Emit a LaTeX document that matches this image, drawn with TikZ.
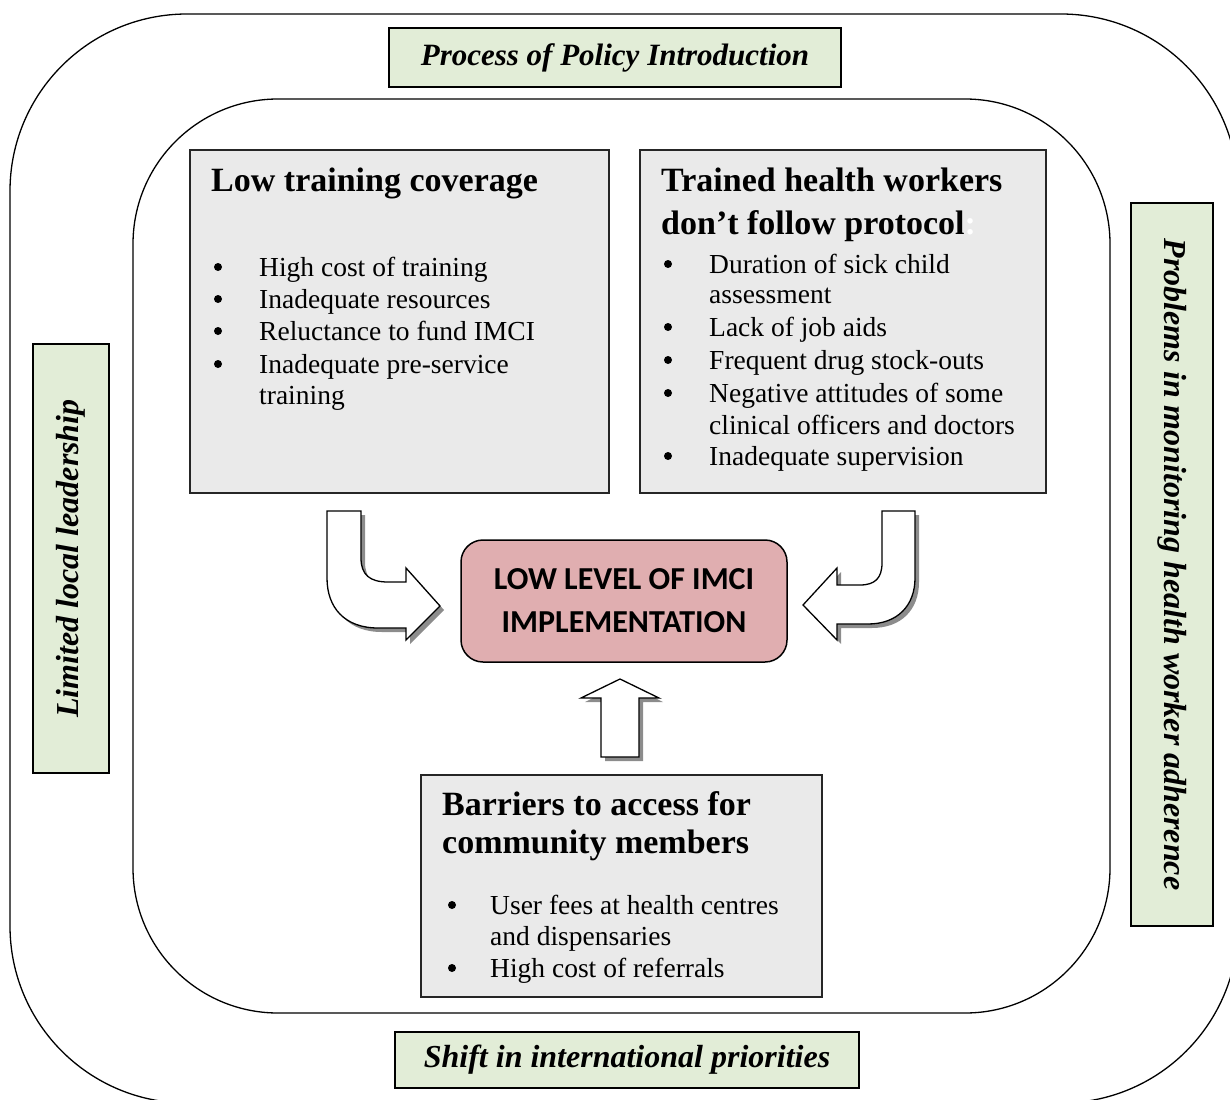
\documentclass[tikz,border=0pt]{standalone}
\usepackage{fontspec}
\setmainfont{Liberation Serif}
\newfontfamily\calib{Carlito}
\definecolor{gfill}{RGB}{226,237,215}
\definecolor{boxgray}{RGB}{234,234,234}
\definecolor{pinkfill}{RGB}{224,174,176}
\begin{document}
\begin{tikzpicture}[x=1pt,y=-1pt,
  greenbox/.style={draw=black, line width=1.6pt, fill=gfill, inner sep=0pt,
    font=\fontsize{32}{38}\selectfont\bfseries\itshape},
  graybox/.style={draw=black!85, line width=2pt, fill=boxgray, inner sep=0pt},
  head/.style={font=\fontsize{34}{42}\selectfont\bfseries, anchor=base west, inner sep=0pt},
  itemtxt/.style={font=\fontsize{27.5}{31}\selectfont, anchor=base west, inner sep=0pt},
  dotmark/.style={circle, fill=black, inner sep=0pt, minimum size=8pt},
  bigarrow/.style={draw=black, line width=1.3pt, fill=white, line join=miter},
  arrowshadow/.style={fill=black!45, draw=none}]
\useasboundingbox (0,0) rectangle (1230,1099);
\clip (0,0) rectangle (1230,1099);

% frames
\draw[line width=1.3pt, rounded corners=177pt] (10,14) rectangle (1238,1103);
\draw[line width=1.3pt, rounded corners=145pt] (133,99) rectangle (1110,1013);

% green labels
\node[greenbox, minimum width=452pt, minimum height=59pt, font=\fontsize{31}{38}\selectfont\bfseries\itshape] (process) at (615,57.5) {Process of Policy Introduction};
\node[greenbox, minimum width=464pt, minimum height=56pt] (shift) at (627,1060) {Shift in international priorities};
\node[greenbox, rotate=90, minimum width=429pt, minimum height=76pt] (lead) at (71,558.5) {Limited local leadership};
\node[greenbox, rotate=-90, minimum width=723pt, minimum height=82pt] (monitor) at (1172,564.5) {Problems in monitoring health worker adherence};

% gray boxes
\node[graybox, minimum width=419pt, minimum height=343pt] (lowbox) at (399.5,321.5) {};
\node[graybox, minimum width=406pt, minimum height=343pt] (trainbox) at (843,321.5) {};
\node[graybox, minimum width=401pt, minimum height=222pt] (barbox) at (621.5,886) {};

% Low training coverage
\node[head] (h1) at (211,192) {Low training coverage};
\node[dotmark] (d11) at (218,267) {};
\node[itemtxt] (t11) at (259,276) {High cost of training};
\node[dotmark] (d12) at (218,299) {};
\node[itemtxt] (t12) at (259,308) {Inadequate resources};
\node[dotmark] (d13) at (218,331) {};
\node[itemtxt] (t13) at (259,340) {Reluctance to fund IMCI};
\node[dotmark] (d14) at (218,364) {};
\node[itemtxt] (t14) at (259,373) {Inadequate pre-service};
\node[itemtxt] (t15) at (259,404) {training};

% Trained health workers
\node[head] (h2a) at (661,192) {Trained health workers};
\node[head] (h2b) at (661,234) {don’t follow protocol\textcolor{white}{:}};
\node[dotmark] (d21) at (668,264) {};
\node[itemtxt] (t21) at (709,273) {Duration of sick child};
\node[itemtxt] (t22) at (709,303) {assessment};
\node[dotmark] (d23) at (668,327) {};
\node[itemtxt] (t23) at (709,336) {Lack of job aids};
\node[dotmark] (d24) at (668,360) {};
\node[itemtxt] (t24) at (709,369) {Frequent drug stock-outs};
\node[dotmark] (d25) at (668,393) {};
\node[itemtxt] (t25) at (709,402) {Negative attitudes of some};
\node[itemtxt] (t26) at (709,434) {clinical officers and doctors};
\node[dotmark] (d27) at (668,456) {};
\node[itemtxt] (t27) at (709,465) {Inadequate supervision};

% Barriers
\node[head] (h3a) at (442,815) {Barriers to access for};
\node[head] (h3b) at (442,853) {community members};
\node[dotmark] (d31) at (452,905) {};
\node[itemtxt] (t31) at (490,914) {User fees at health centres};
\node[itemtxt] (t32) at (490,945) {and dispensaries};
\node[dotmark] (d33) at (452,968) {};
\node[itemtxt] (t33) at (490,977) {High cost of referrals};

% centre
\node[draw=black, line width=1.5pt, fill=pinkfill, rounded corners=22pt,
  minimum width=326pt, minimum height=122pt, align=center,
  font=\calib\bfseries\fontsize{32}{43}\selectfont] (centre) at (624,601)
  {LOW LEVEL OF IMCI\\IMPLEMENTATION};

% arrows: shadows
\begin{scope}[shift={(4,4)}]
\fill[arrowshadow] (327,511) -- (361,511) -- (361,558) .. controls (361,575) and (370,582) .. (388,582) -- (406,582) -- (406,568) -- (440,606) -- (406,640) -- (406,628) -- (378,628) .. controls (345,628) and (327,608) .. (327,578) -- cycle;
\fill[arrowshadow] (882,511) -- (915,511) -- (915,578) .. controls (915,606) and (897,624) .. (868,624) -- (837,624) -- (837,640) -- (803,605) -- (837,568) -- (837,585) -- (860,585) .. controls (875,585) and (882,578) .. (882,563) -- cycle;
\fill[arrowshadow] (620,679) -- (659,698) -- (639,698) -- (639,757) -- (601,757) -- (601,698) -- (581,698) -- cycle;
\end{scope}
% arrows
\draw[bigarrow] (327,511) -- (361,511) -- (361,558) .. controls (361,575) and (370,582) .. (388,582) -- (406,582) -- (406,568) -- (440,606) -- (406,640) -- (406,628) -- (378,628) .. controls (345,628) and (327,608) .. (327,578) -- cycle;
\draw[bigarrow] (882,511) -- (915,511) -- (915,578) .. controls (915,606) and (897,624) .. (868,624) -- (837,624) -- (837,640) -- (803,605) -- (837,568) -- (837,585) -- (860,585) .. controls (875,585) and (882,578) .. (882,563) -- cycle;
\draw[bigarrow] (620,679) -- (659,698) -- (639,698) -- (639,757) -- (601,757) -- (601,698) -- (581,698) -- cycle;
\end{tikzpicture}
\end{document}
